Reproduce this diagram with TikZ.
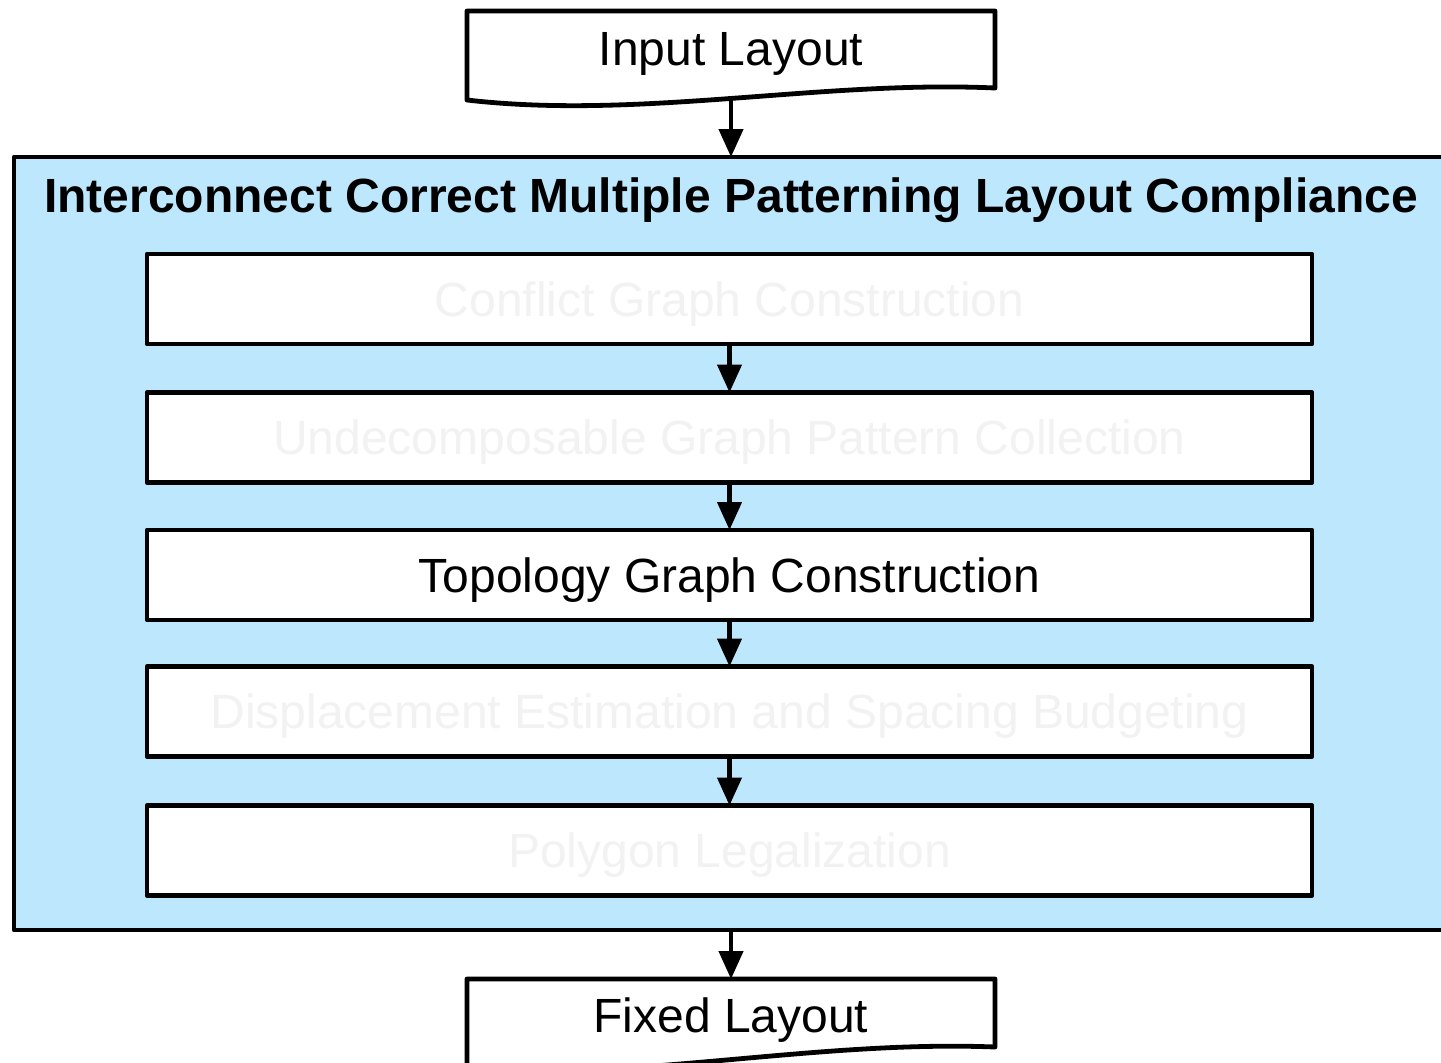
\documentclass[tikz,border=0pt]{standalone}
\usepackage{fontspec}
\setmainfont{Liberation Sans}
\usetikzlibrary{arrows.meta}
\definecolor{panelblue}{HTML}{BDE7FD}
\definecolor{ghost}{HTML}{F2F2F2}
\tikzset{
  outline/.style={line width=2.4pt, line join=round},
  stage/.style={draw, outline, fill=white, minimum width=582.5pt, minimum height=45pt,
                inner sep=0pt, outer sep=0pt, text height=22pt, text depth=4.6pt,
                font=\fontsize{24}{28}\selectfont},
  faded/.style={text=ghost},
  doclabel/.style={inner sep=0pt, outer sep=0pt, font=\fontsize{24}{28}\selectfont},
  flow/.style={line width=2.2pt, -{Triangle[length=14pt,width=12pt]}},
}
\begin{document}
\begin{tikzpicture}[x=0.5pt, y=-0.5pt]
\useasboundingbox (0,0) rectangle (1441,1062);

% input document
\draw[outline, fill=white] (467,100) -- (467,11) -- (995,11) -- (995,88)
  .. controls (820,80) and (640,120) .. (467,100) -- cycle;
\node[doclabel] (inp) at (731,54) {Input Layout};
\coordinate (inpout) at (731,99);

% compliance panel
\draw[outline, fill=panelblue] (1460,157) -- (14,157) -- (14,930) -- (1460,930);
\coordinate (paneltop) at (731,157);
\coordinate (panelbot) at (731,930);
\node[inner sep=0pt, font=\bfseries\fontsize{24}{28}\selectfont] (title) at (731,200)
  {Interconnect Correct Multiple Patterning Layout Compliance};

% stages
\node[stage, faded] (s1) at (729.5,299)   {Conflict Graph Construction};
\node[stage, faded] (s2) at (729.5,437.5) {Undecomposable Graph Pattern Collection};
\node[stage]        (s3) at (729.5,575)   {Topology Graph Construction};
\node[stage, faded] (s4) at (729.5,711.5) {Displacement Estimation and Spacing Budgeting};
\node[stage, faded] (s5) at (729.5,850.5) {Polygon Legalization};

% output document
\draw[outline, fill=white] (467,1075) -- (467,979) -- (995,979) -- (995,1047)
  .. controls (820,1040) and (640,1080) .. (467,1070);
\node[doclabel] (outp) at (731,1020) {Fixed Layout};
\coordinate (outtop) at (731,979);

% connectors
\draw[flow] (inpout) -- (paneltop);
\draw[flow] (s1.south) -- (s2.north);
\draw[flow] (s2.south) -- (s3.north);
\draw[flow] (s3.south) -- (s4.north);
\draw[flow] (s4.south) -- (s5.north);
\draw[flow] (panelbot) -- (outtop);
\end{tikzpicture}
\end{document}
